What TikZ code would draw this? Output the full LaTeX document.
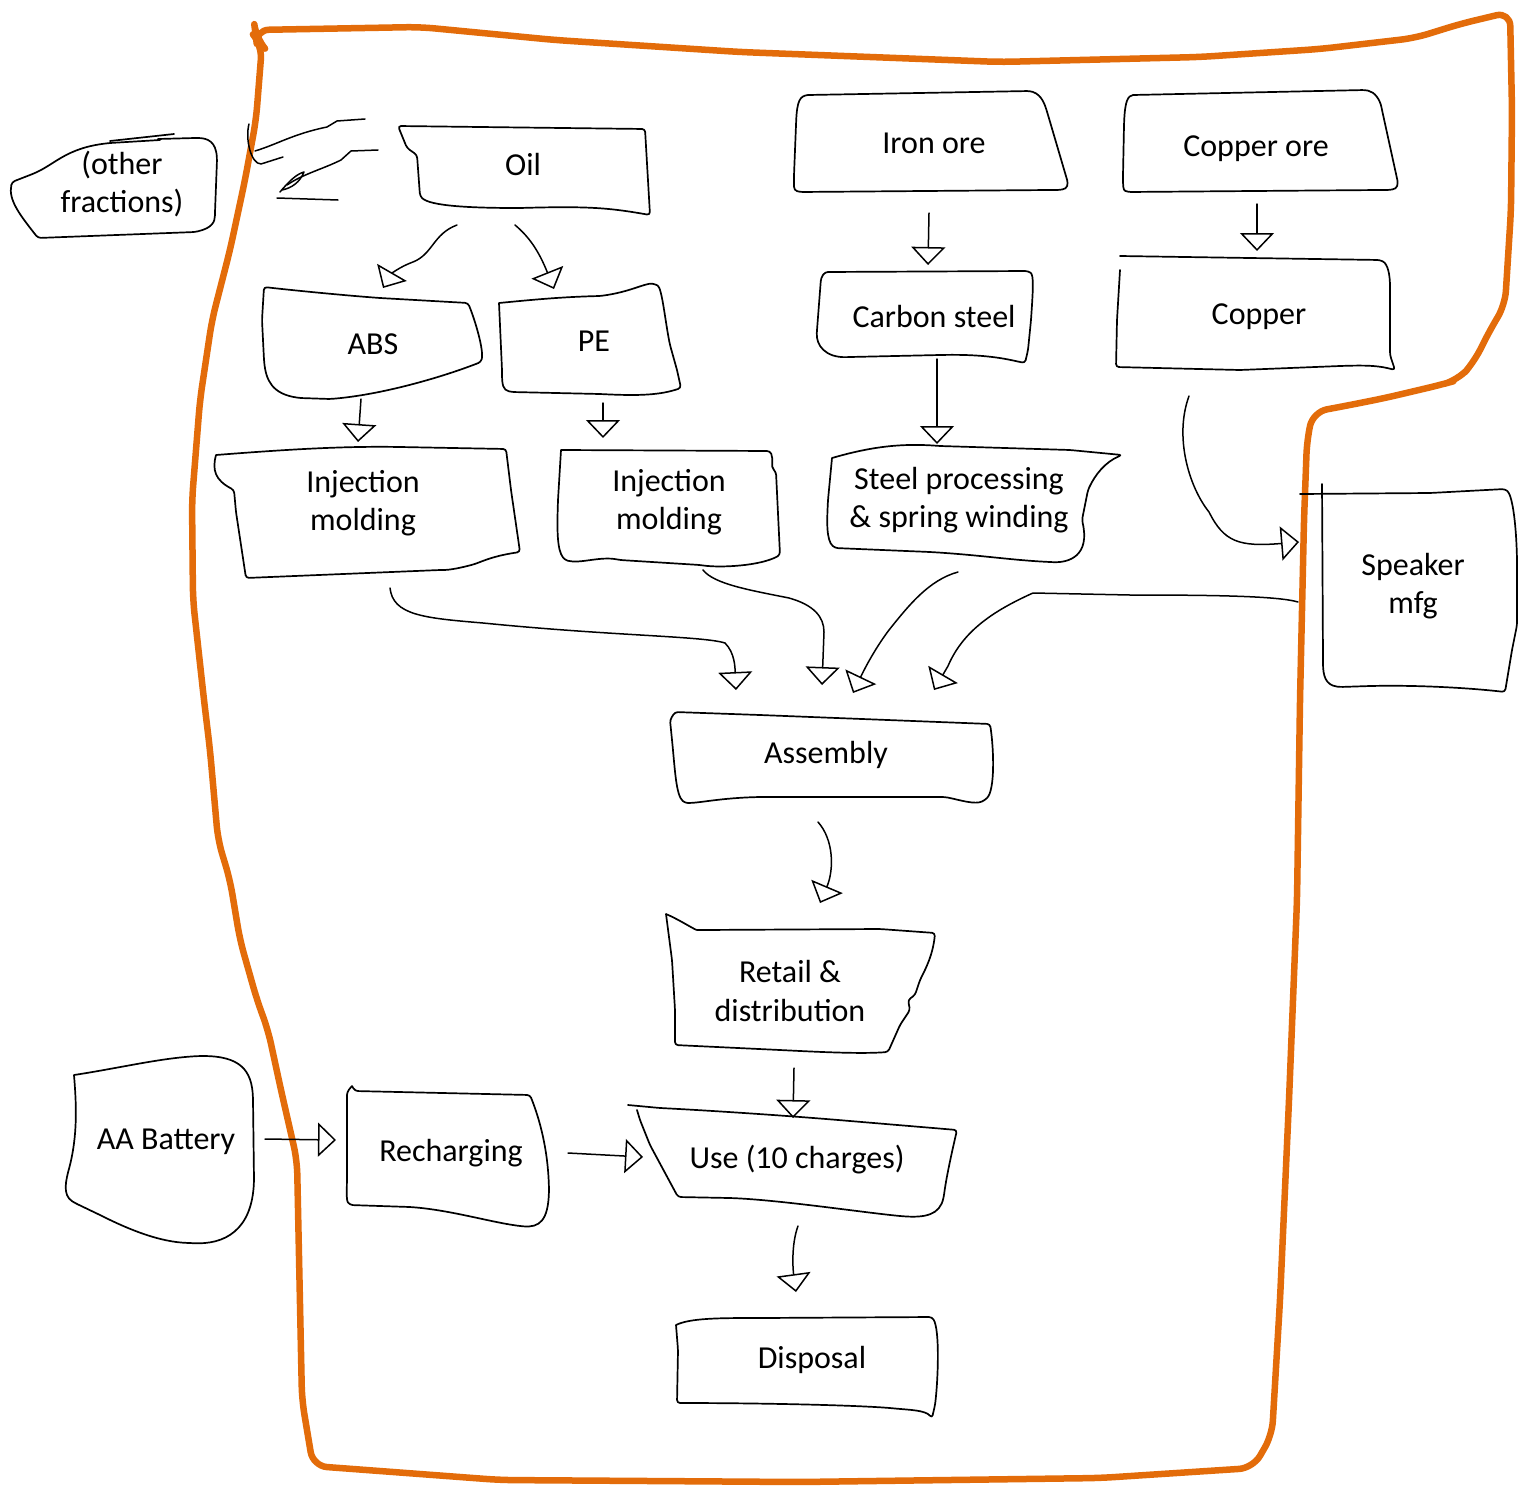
\documentclass[tikz,border=0pt]{standalone}
\usepackage{fontspec}
\setmainfont{Carlito}
\usetikzlibrary{arrows.meta,calc}
\definecolor{bord}{HTML}{E36C0A}
\tikzset{
  lbl/.style={font=\fontsize{32}{38.5}\selectfont, align=center, inner sep=0pt},
  hand/.style={line width=1.7pt, line join=round, line cap=round, rounded corners=3pt},
  conn/.style={line width=1.5pt, line cap=round, line join=round,
     -{Triangle[open, length=18pt, width=34pt, line width=1.5pt]}},
  freeline/.style={line width=1.5pt, line cap=round, line join=round},
}
\begin{document}
\begin{tikzpicture}[x=1pt,y=-1pt]
\useasboundingbox (0,0) rectangle (1528,1488);
\fill[white] (0,0) rectangle (1528,1488);

% ---------- orange boundary ----------
\draw[bord, line width=6.5pt, line join=round, rounded corners=14pt]
 (256,38) -- (255,30) -- (420,27) -- (555,40) -- (740,52) -- (1000,62) -- (1200,57)
 -- (1320,49) -- (1415,38) -- (1460,24) -- (1510,12) -- (1512,110) -- (1511,210)
 -- (1505,305) -- (1490,330) -- (1474,362) -- (1458,380) -- (1440,385) -- (1385,398)
 -- (1350,405) -- (1313,412) -- (1307,440) -- (1304,520) -- (1300,700) -- (1297,900)
 -- (1289,1100) -- (1280,1300) -- (1272,1435) -- (1253,1468) -- (1100,1478)
 -- (800,1482) -- (500,1480) -- (313,1466) -- (302,1400) -- (297,1160) -- (281,1090)
 -- (268,1030) -- (257,1000) -- (240,940) -- (230,880) -- (218,840) -- (210,750)
 -- (204,700) -- (193,600) -- (192,500) -- (200,400) -- (212,320) -- (230,250)
 -- (245,180) -- (256,120) -- (262,45) -- cycle;

% ---------- node texts ----------
\node[lbl] (frac) at (122,184) {(other\\fractions)};
\node[lbl] (oil) at (523,164) {Oil};
\node[lbl] (iron) at (934,143) {Iron ore};
\node[lbl] (cuore) at (1256,149) {Copper ore};
\node[lbl] (csteel) at (934,317) {Carbon steel};
\node[lbl] (copper) at (1259,317) {Copper};
\node[lbl] (abs) at (373,344) {ABS};
\node[lbl] (pe) at (594,341) {PE};
\node[lbl] (inj1) at (363,503) {Injection\\molding};
\node[lbl] (inj2) at (669,502) {Injection\\molding};
\node[lbl] (steel) at (959,500) {Steel processing\\\& spring winding};
\node[lbl] (spk) at (1413,586) {Speaker\\mfg};
\node[lbl] (asm) at (826,755) {Assembly};
\node[lbl] (retail) at (790,991) {Retail \&\\distribution};
\node[lbl] (aa) at (166,1142) {AA Battery};
\node[lbl] (rech) at (451,1153) {Recharging};
\node[lbl] (use) at (797,1160) {Use (10 charges)};
\node[lbl] (disp) at (812,1360) {Disposal};

% ---------- hand-drawn boxes ----------
% other fractions
\draw[hand] (160,140) -- (110,143) .. controls (65,148) and (55,165) .. (30,175)
  -- (12,182) .. controls (8,200) and (20,215) .. (38,238) -- (195,232)
  .. controls (212,228) and (215,222) .. (215,212) -- (217,160)
  .. controls (216,142) and (208,138) .. (195,138) -- (158,139);
\draw[hand] (110,141) -- (174,134);
% oil
\draw[hand] (398,126) -- (645,129) -- (650,215) .. controls (610,208) and (590,206) .. (520,208)
  .. controls (470,208) and (430,206) .. (420,196) -- (417,155) -- (407,148) -- cycle;
% iron ore
\draw[hand] (808,95) -- (1030,91) .. controls (1042,95) and (1045,105) .. (1048,115)
  -- (1068,183) .. controls (1066,190) and (1060,190) .. (1050,190) -- (800,192)
  .. controls (793,190) and (794,185) .. (794,175) -- (796,125) .. controls (797,100) and (800,96) .. (808,95);
% copper ore
\draw[hand] (1133,95) -- (1365,90) .. controls (1375,92) and (1380,100) .. (1382,110)
  -- (1398,183) .. controls (1396,190) and (1390,190) .. (1380,190) -- (1128,192)
  .. controls (1123,190) and (1123,185) .. (1123,175) -- (1124,125) .. controls (1125,100) and (1128,96) .. (1133,95);
% carbon steel
\draw[hand] (825,272) -- (1028,271) .. controls (1034,275) and (1033,290) .. (1031,320)
  -- (1028,350) -- (1025,363) .. controls (1010,360) and (990,354) .. (940,355)
  -- (850,357) .. controls (825,358) and (816,345) .. (817,330) -- (821,278) -- cycle;
% copper
\draw[hand] (1120,256) -- (1380,260) .. controls (1388,264) and (1390,275) .. (1390,290)
  -- (1390,355) -- (1395,370) .. controls (1380,366) and (1370,365) .. (1340,366)
  -- (1240,370) -- (1116,367) -- (1117,320) -- (1120,270);
% ABS
\draw[hand] (264,287) .. controls (290,290) and (340,295) .. (380,298) -- (468,303)
  .. controls (475,320) and (484,350) .. (481,362) .. controls (440,378) and (380,395) .. (330,399)
  -- (300,398) .. controls (272,394) and (266,380) .. (264,360) -- (262,320) -- cycle;
% PE
\draw[hand] (499,303) .. controls (530,300) and (560,297) .. (600,296) .. controls (630,292) and (645,283) .. (655,284)
  .. controls (662,288) and (665,320) .. (670,345) -- (677,370) -- (681,388)
  .. controls (660,395) and (640,396) .. (600,394) -- (512,392) .. controls (503,390) and (502,385) .. (502,370) -- (499,303);
% injection molding 1
\draw[hand] (216,455) .. controls (280,450) and (340,446) .. (400,447) -- (506,449)
  -- (511,490) -- (520,552) .. controls (500,555) and (490,558) .. (475,564)
  .. controls (460,568) and (450,570) .. (440,570) -- (246,578) -- (236,512)
  -- (234,490) .. controls (215,480) and (212,470) .. (216,455);
% injection molding 2
\draw[hand] (561,450) -- (770,451) .. controls (774,460) and (770,466) .. (776,472)
  -- (780,555) .. controls (760,566) and (720,568) .. (700,565) -- (620,560)
  .. controls (600,556) and (580,564) .. (565,560) .. controls (557,550) and (557,530) .. (558,500) -- (561,450);
% steel processing
\draw[hand] (832,458) .. controls (870,447) and (900,443) .. (940,446) -- (1070,450)
  -- (1122,455) .. controls (1105,462) and (1095,475) .. (1088,490) -- (1082,520)
  .. controls (1090,555) and (1070,563) .. (1050,562) .. controls (1010,560) and (980,555) .. (930,552)
  -- (835,548) .. controls (826,540) and (827,520) .. (828,500) -- (832,458);
% speaker mfg
\draw[hand] (1300,494) -- (1430,493) -- (1505,489) .. controls (1512,495) and (1516,520) .. (1517,560)
  -- (1517,625) -- (1512,650) -- (1505,692) .. controls (1470,688) and (1420,685) .. (1370,686)
  -- (1340,687) .. controls (1325,685) and (1323,675) .. (1323,660) -- (1322,484);
% assembly
\draw[hand] (675,712) -- (760,715) -- (990,724) .. controls (994,750) and (995,790) .. (985,800)
  .. controls (975,805) and (960,800) .. (945,797) -- (760,797) .. controls (720,798) and (700,803) .. (685,803)
  .. controls (676,795) and (675,770) .. (672,740) -- (670,720) -- cycle;
% retail
\draw[hand] (666,914) .. controls (680,920) and (695,930) .. (700,930) -- (880,929) -- (935,933)
  .. controls (933,955) and (925,970) .. (920,980) -- (915,995) -- (908,1000) -- (910,1010)
  -- (900,1025) -- (888,1052) .. controls (860,1054) and (820,1052) .. (780,1050)
  -- (675,1045) -- (675,1010) -- (672,960) -- (666,914);
% AA battery
\draw[hand] (74,1075) .. controls (120,1068) and (160,1058) .. (200,1056)
  .. controls (240,1056) and (252,1070) .. (253,1100) -- (254,1180)
  .. controls (252,1230) and (225,1245) .. (190,1243) .. controls (160,1242) and (130,1230) .. (100,1215)
  -- (75,1203) .. controls (62,1195) and (66,1180) .. (70,1165) .. controls (78,1130) and (76,1100) .. (74,1075);
% recharging
\draw[hand] (352,1086) -- (355,1091) -- (530,1095) .. controls (540,1120) and (548,1150) .. (549,1190)
  .. controls (548,1220) and (540,1228) .. (520,1226) .. controls (490,1222) and (450,1210) .. (410,1207)
  -- (350,1205) .. controls (346,1200) and (347,1190) .. (347,1170) -- (347,1092) -- (352,1086);
% use
\draw[hand] (628,1105) -- (660,1108) .. controls (700,1110) and (780,1115) .. (850,1121)
  -- (957,1130) .. controls (950,1160) and (946,1180) .. (944,1195) .. controls (940,1215) and (925,1218) .. (900,1216)
  .. controls (860,1212) and (780,1200) .. (730,1198) -- (678,1197) -- (650,1145) -- (640,1120) -- (637,1110);
% disposal
\draw[hand] (676,1325) .. controls (690,1318) and (720,1318) .. (760,1318) -- (932,1317)
  .. controls (940,1330) and (938,1380) .. (935,1405) -- (932,1418) .. controls (925,1410) and (910,1410) .. (890,1408)
  .. controls (850,1405) and (760,1403) .. (677,1403) -- (678,1350) -- (676,1325);

% ---------- connectors ----------
% oil -> other fractions (double freehand stroke)
\draw[freeline] ($(oil)+(-158,-45)$) -- ($(oil)+(-186,-43)$) -- ($(oil)+(-196,-37)$)
  .. controls ($(oil)+(-230,-30)$) and ($(oil)+(-245,-20)$) .. ($(oil)+(-268,-13)$);
\draw[freeline] ($(oil)+(-274,-40)$) .. controls ($(oil)+(-278,-25)$) and ($(oil)+(-272,0)$) .. ($(oil)+(-262,0)$)
  -- ($(oil)+(-240,-7)$);
\draw[freeline] ($(oil)+(-145,-14)$) -- ($(oil)+(-172,-13)$) -- ($(oil)+(-182,-4)$)
  .. controls ($(oil)+(-200,5)$) and ($(oil)+(-220,10)$) .. ($(frac)+(165,1)$);
\draw[freeline] ($(frac)+(158,8)$) .. controls ($(frac)+(168,-4)$) and ($(frac)+(175,-10)$) .. ($(frac)+(182,-12)$)
  .. controls ($(frac)+(178,-2)$) and ($(frac)+(170,4)$) .. ($(frac)+(160,6)$);
\draw[freeline] ($(frac)+(155,14)$) -- ($(frac)+(216,16)$);
% oil -> ABS
\draw[conn] ($(oil)+(-66,61)$) .. controls ($(oil)+(-90,70)$) and ($(oil)+(-90,90)$) .. ($(oil)+(-110,98)$)
  to[out=200,in=60] ($(abs)+(10,-56)$);
% oil -> PE
\draw[conn] ($(oil)+(-8,61)$) .. controls ($(oil)+(5,72)$) and ($(oil)+(15,85)$) .. ($(pe)+(-40,-52)$);
% iron ore -> carbon steel
\draw[conn] ($(iron)+(-5,70)$) -- ($(csteel)+(-6,-52)$);
% copper ore -> copper
\draw[conn] ($(cuore)+(1,55)$) -- ($(copper)+(-2,-66)$);
% ABS -> injection molding
\draw[conn] ($(abs)+(-12,55)$) -- ($(inj1)+(-5,-61)$);
% PE -> injection molding
\draw[conn] ($(pe)+(9,62)$) -- ($(inj2)+(-66,-64)$);
% carbon steel -> steel processing
\draw[conn] ($(csteel)+(3,42)$) -- ($(steel)+(-22,-56)$);
% copper -> speaker mfg
\draw[conn] ($(copper)+(-70,79)$) .. controls ($(copper)+(-85,120)$) and ($(copper)+(-70,170)$) .. ($(copper)+(-50,195)$)
  .. controls ($(copper)+(-35,225)$) and ($(copper)+(-20,230)$) .. ($(copper)+(40,225)$);
% injection molding 1 -> assembly
\draw[conn] ($(inj1)+(27,85)$) .. controls ($(inj1)+(30,112)$) and ($(inj1)+(60,115)$) .. ($(inj1)+(120,120)$)
  .. controls ($(inj1)+(250,133)$) and ($(inj1)+(340,133)$) .. ($(inj1)+(362,140)$)
  .. controls ($(inj1)+(372,150)$) and ($(inj1)+(372,165)$) .. ($(asm)+(-90,-65)$);
% injection molding 2 -> assembly
\draw[conn] ($(inj2)+(34,68)$) .. controls ($(inj2)+(45,82)$) and ($(inj2)+(80,88)$) .. ($(inj2)+(120,96)$)
  .. controls ($(inj2)+(145,103)$) and ($(inj2)+(155,115)$) .. ($(inj2)+(155,130)$) -- ($(asm)+(-4,-70)$);
% steel -> assembly
\draw[conn] ($(steel)+(-1,72)$) .. controls ($(steel)+(-30,80)$) and ($(steel)+(-50,105)$) .. ($(steel)+(-70,130)$)
  .. controls ($(steel)+(-85,150)$) and ($(steel)+(-95,170)$) .. ($(asm)+(27,-62)$);
% speaker -> assembly
\draw[conn] ($(spk)+(-115,16)$) .. controls ($(spk)+(-135,10)$) and ($(spk)+(-200,9)$) .. ($(spk)+(-283,9)$)
  -- ($(spk)+(-380,7)$) .. controls ($(spk)+(-420,25)$) and ($(spk)+(-450,45)$) .. ($(spk)+(-465,80)$)
  -- ($(asm)+(108,-65)$);
% assembly -> retail
\draw[conn] ($(asm)+(-8,67)$) .. controls ($(asm)+(8,85)$) and ($(asm)+(8,115)$) .. ($(retail)+(30,-88)$);
% retail -> use
\draw[conn] ($(retail)+(4,77)$) -- ($(use)+(-4,-42)$);
% battery -> recharging
\draw[conn] ($(aa)+(99,-3)$) -- ($(rech)+(-115,-13)$);
% recharging -> use
\draw[conn] ($(rech)+(117,0)$) -- ($(use)+(-154,-3)$);
% use -> disposal
\draw[conn] ($(use)+(1,66)$) .. controls ($(use)+(-6,85)$) and ($(use)+(-4,110)$) .. ($(disp)+(-16,-68)$);
\end{tikzpicture}
\end{document}
